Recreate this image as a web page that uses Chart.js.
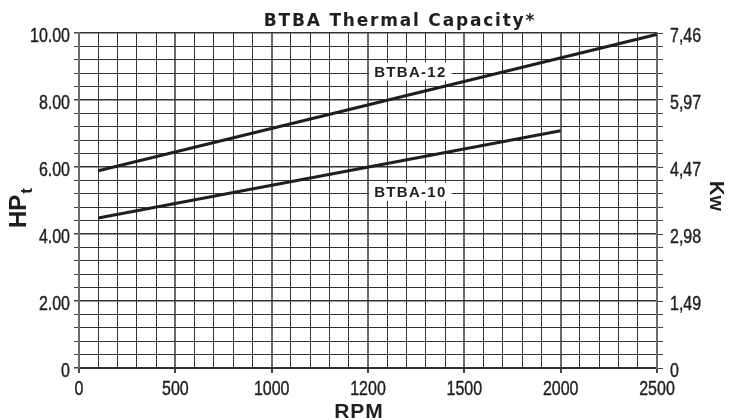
<!DOCTYPE html>
<html>
<head>
<meta charset="utf-8">
<script src="https://cdn.jsdelivr.net/npm/chart.js@4.4.1/dist/chart.umd.min.js"></script>
<style>
  html, body { margin: 0; padding: 0; background: #fff; }
  #wrap { width: 736px; height: 420px; position: relative; }
</style>
</head>
<body>
<div id="wrap"><canvas id="chart"></canvas></div>
<script>
// Printed axis labels (the x axis is graph paper with 6 equal major divisions)
const rpmTickLabels = ['0', '500', '1000', '1200', '1500', '2000', '2500'];
const hpTickLabels = ['0', '2.00', '4.00', '6.00', '8.00', '10.00'];
const kwTickLabels = ['0', '1,49', '2,98', '4,47', '5,97', '7,46'];

// Series: x = position along the printed RPM axis (major division index), y = HPt
const btba12X = [0.2, 6];
const btba12Y = [5.89, 9.96];
const btba10X = [0.2, 5];
const btba10Y = [4.48, 7.08];

const BOLD = "'Liberation Sans', Arial, sans-serif";
const INK = '#1e1e1e';

function nearMultiple(v, m) {
    const q = v / m;
    return Math.abs(q - Math.round(q)) < 1e-6;
}

function toPoints(xs, ys) {
    return xs.map((x, i) => ({ x: x, y: ys[i] }));
}

// Texto estreito (fonte condensada não instalada, então comprime na horizontal)
function narrowText(ctx, text, x, y, align) {
    ctx.save();
    ctx.translate(x, y);
    ctx.scale(0.82, 1);
    ctx.textAlign = align;
    ctx.fillText(text, 0, 0);
    ctx.strokeText(text, 0, 0);
    ctx.restore();
}

const decorPlugin = {
    id: 'decor',
    afterDatasetsDraw(chart) {
        const ctx = chart.ctx;
        const xs = chart.scales.x;
        const ys = chart.scales.y;
        const labels = [
            { text: 'BTBA-12', x: 3.44, y: 8.85 },
            { text: 'BTBA-10', x: 3.44, y: 5.26 }
        ];
        ctx.save();
        ctx.font = `bold 15px ${BOLD}`;
        ctx.letterSpacing = '1.3px';
        ctx.textAlign = 'center';
        ctx.textBaseline = 'middle';
        labels.forEach(l => {
            const px = xs.getPixelForValue(l.x);
            const py = ys.getPixelForValue(l.y);
            const w = ctx.measureText(l.text).width;
            ctx.fillStyle = '#fff';
            ctx.fillRect(px - w / 2 - 5, py - 9, w + 10, 18);
            ctx.fillStyle = INK;
            ctx.fillText(l.text, px, py + 1);
        });
        ctx.restore();
    },
    afterDraw(chart) {
        const ctx = chart.ctx;
        const { x, y, y2 } = chart.scales;
        ctx.save();
        ctx.fillStyle = INK;
        ctx.strokeStyle = INK;
        ctx.lineWidth = 0.4;
        ctx.textBaseline = 'alphabetic';

        // Rótulos dos ticks, nas posições das escalas
        ctx.font = `19.5px ${BOLD}`;
        x.ticks.forEach((t, i) => {
            if (t.label) narrowText(ctx, t.label, x.getPixelForTick(i), x.top + 27, 'center');
        });
        y.ticks.forEach((t, i) => {
            if (t.label) narrowText(ctx, t.label, y.right - 9, y.getPixelForTick(i) + 8.5, 'right');
        });
        y2.ticks.forEach((t, i) => {
            if (t.label) narrowText(ctx, t.label, y2.left + 13, y2.getPixelForTick(i) + 8.5, 'left');
        });

        // Título
        ctx.font = `bold 17px 'DejaVu Sans', sans-serif`;
        ctx.letterSpacing = '1.8px';
        ctx.textAlign = 'center';
        ctx.fillText('BTBA Thermal Capacity*', 400, 26);

        // RPM
        ctx.font = `bold 21px ${BOLD}`;
        ctx.letterSpacing = '1px';
        ctx.fillText('RPM', 359, 418);

        // HPt
        ctx.save();
        ctx.translate(26, 228);
        ctx.rotate(-Math.PI / 2);
        ctx.textAlign = 'left';
        ctx.font = `bold 24px ${BOLD}`;
        ctx.letterSpacing = '0px';
        ctx.fillText('HP', 0, 0);
        const hpW = ctx.measureText('HP').width;
        ctx.font = `bold 17px ${BOLD}`;
        ctx.fillText('t', hpW + 1, 6);
        ctx.restore();

        // Kw
        ctx.save();
        ctx.translate(716, 196);
        ctx.rotate(Math.PI / 2);
        ctx.textAlign = 'center';
        ctx.textBaseline = 'middle';
        ctx.font = `bold 20px ${BOLD}`;
        ctx.letterSpacing = '0px';
        ctx.fillText('Kw', 0, 0);
        ctx.restore();

        ctx.restore();
    }
};

const ctx = document.getElementById('chart').getContext('2d');
new Chart(ctx, {
    type: 'line',
    data: {
        datasets: [{
            label: 'BTBA-12',
            data: toPoints(btba12X, btba12Y),
            borderColor: INK,
            borderWidth: 3,
            pointRadius: 0,
            tension: 0
        }, {
            label: 'BTBA-10',
            data: toPoints(btba10X, btba10Y),
            borderColor: INK,
            borderWidth: 3,
            pointRadius: 0,
            tension: 0
        }]
    },
    options: {
        responsive: true,
        maintainAspectRatio: false,
        animation: false,
        layout: { padding: { top: 33, left: 0, right: 0, bottom: 0 } },
        plugins: {
            legend: { display: false },
            tooltip: { enabled: false },
            title: { display: false }
        },
        scales: {
            x: {
                type: 'linear',
                min: 0,
                max: 6,
                afterFit: s => { s.height = 52; },
                border: { display: true, color: '#333', width: 2 },
                grid: {
                    color: c => nearMultiple(c.tick.value, 1) ? '#6a6a6a' : '#333',
                    lineWidth: c => nearMultiple(c.tick.value, 1) ? 2 : 1,
                    tickLength: 5,
                    tickColor: c => nearMultiple(c.tick.value, 1) ? '#444' : 'rgba(0,0,0,0)'
                },
                ticks: {
                    display: false,
                    stepSize: 0.2,
                    autoSkip: false,
                    maxRotation: 0,
                    callback: v => nearMultiple(v, 1) ? rpmTickLabels[Math.round(v)] : ''
                }
            },
            y: {
                type: 'linear',
                position: 'left',
                min: 0,
                max: 10,
                afterFit: s => { s.width = 79; },
                border: { display: true, color: '#6a6a6a', width: 2 },
                grid: {
                    color: '#333',
                    lineWidth: c => nearMultiple(c.tick.value, 2) ? 1.5 : 1,
                    tickLength: 5,
                    tickColor: '#444'
                },
                ticks: {
                    display: false,
                    stepSize: 0.4,
                    autoSkip: false,
                    callback: v => nearMultiple(v, 2) ? hpTickLabels[Math.round(v / 2)] : ''
                }
            },
            y2: {
                type: 'linear',
                position: 'right',
                min: 0,
                max: 10,
                afterFit: s => { s.width = 79; },
                border: { display: true, color: '#6a6a6a', width: 2 },
                grid: {
                    drawOnChartArea: false,
                    tickLength: 6,
                    tickColor: '#444'
                },
                ticks: {
                    display: false,
                    stepSize: 0.4,
                    autoSkip: false,
                    callback: v => nearMultiple(v, 2) ? kwTickLabels[Math.round(v / 2)] : ''
                }
            }
        }
    },
    plugins: [decorPlugin]
});
</script>
</body>
</html>
